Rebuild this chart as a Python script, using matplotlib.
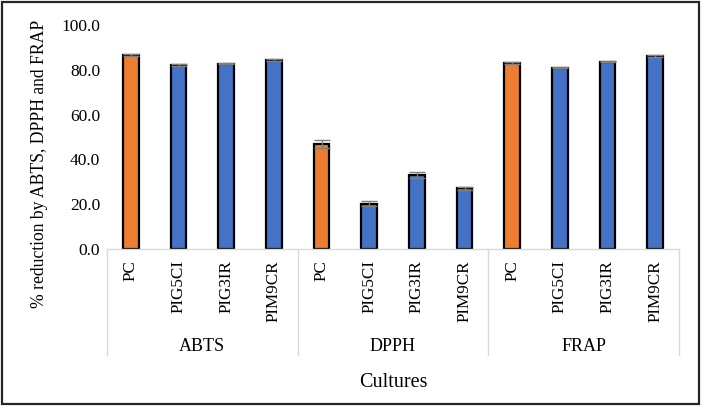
import matplotlib
matplotlib.use("Agg")
import matplotlib.pyplot as plt
from matplotlib.patches import Rectangle
import matplotlib.transforms as mtransforms

groups = ["ABTS", "DPPH", "FRAP"]
cultures = ["PC", "PIG5CI", "PIG3IR", "PIM9CR"]
abts = [86.5, 82.3, 82.7, 84.4]
dpph = [47.0, 20.3, 33.0, 27.2]
frap = [83.0, 81.0, 83.6, 86.1]
abts_err = [0.4, 0.5, 0.3, 0.5]
dpph_err = [1.8, 1.0, 1.5, 0.7]
frap_err = [0.6, 0.2, 0.3, 0.3]

values = abts + dpph + frap
errors = abts_err + dpph_err + frap_err
labels = cultures * 3
orange = "#ED7D31"
blue = "#4472C4"
colors = [orange if c == "PC" else blue for c in labels]

plt.rcParams['font.family'] = ['Liberation Serif', 'DejaVu Serif']

fig = plt.figure(figsize=(7.02, 4.08), dpi=100)
ax_bottom = 249
ax_top = 25
ax = fig.add_axes([107/702, 1-ax_bottom/408, (679-107)/702, (ax_bottom-ax_top)/408])
hpx = ax_bottom - ax_top

x = list(range(len(values)))
ax.bar(x, values, width=0.33, color=colors, edgecolor="black", linewidth=1.6, zorder=2)
ax.errorbar(x, values, yerr=errors, fmt="none", ecolor="#7F7F7F", elinewidth=1.0,
            capsize=6, capthick=1.0, zorder=3)

ax.set_xlim(-0.5, len(values) - 0.5)
ax.set_ylim(0, 100)
ax.set_yticks([0, 20, 40, 60, 80, 100])
ax.set_yticklabels([f"{v:.1f}" for v in [0, 20, 40, 60, 80, 100]], fontsize=12.5)
ax.tick_params(axis='y', length=0, pad=5)
ax.set_xticks(x)
ax.set_xticklabels(labels, rotation=90, fontsize=12.3)
ax.tick_params(axis='x', length=0, pad=8)

for s in ["top", "right", "left"]:
    ax.spines[s].set_visible(False)
ax.spines["bottom"].set_color("#D9D9D9")
ax.spines["bottom"].set_linewidth(1.0)

trans = mtransforms.blended_transform_factory(ax.transData, ax.transAxes)
for xs in [-0.5, 3.5, 7.5, 11.5]:
    ax.plot([xs, xs], [0, -(355-ax_bottom)/hpx], transform=trans, color="#D9D9D9", lw=1.0, clip_on=False)
for i, g in enumerate(groups):
    ax.text(i * 4 + 1.5, -(346-ax_bottom)/hpx, g, transform=trans, ha="center", va="center", fontsize=13)

ax.text(0.5, -(382-ax_bottom)/hpx, "Cultures", transform=ax.transAxes, ha="center", va="center", fontsize=14.5)
fig.text(40/702, 1-164/408, "% reduction by ABTS, DPPH and FRAP", rotation=90,
         ha="center", va="center", fontsize=12.7)

fig.patches.append(Rectangle((2/702, 4/408), 697/702, 402/408, transform=fig.transFigure,
                             fill=False, edgecolor="#262626", linewidth=1.6))

fig.savefig("out.png", dpi=100)
